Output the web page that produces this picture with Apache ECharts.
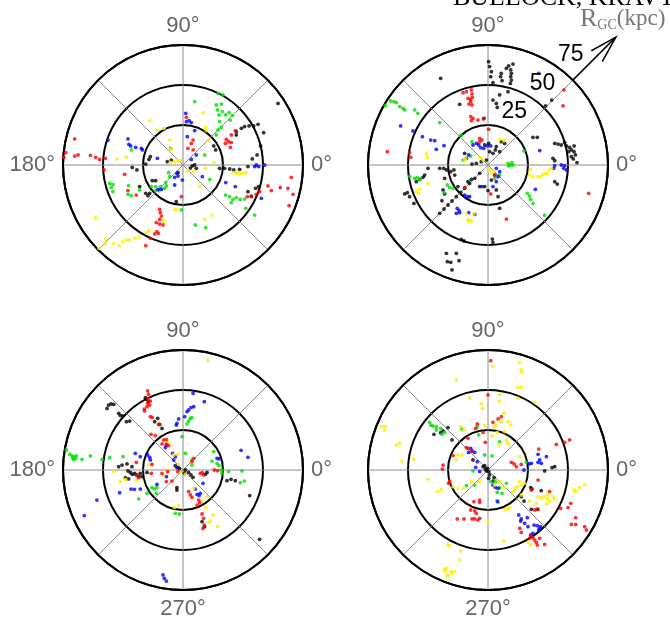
<!DOCTYPE html>
<html>
<head>
<meta charset="utf-8">
<script src="https://cdn.jsdelivr.net/npm/echarts@6/dist/echarts.min.js"></script>
<style>
  html, body { margin: 0; padding: 0; background: #fff; }
  #chart { width: 670px; height: 618px; }
</style>
</head>
<body>
<div id="chart"></div>
<script>
// Projected satellite-debris positions (x, y) in kpc, one array per colour per panel.

// Panel A (top left)
const aRed = [[-67.7,16.3],[-73.3,7.7],[-74.5,4.8],[-67.7,5.6],[-65.6,6.3],[-57.9,6.0],[-54.6,4.8],[-52.1,3.5],[-48.5,4.2],[-49.4,-3.1],[-36.5,-5.8],[-34.4,-16],[-29.2,-18.8],[-14.6,-27.7],[-14.2,-29.8],[-13.5,-31.9],[-14.6,-34],[-16.7,-36],[-14.6,-36.9],[-12.5,-37.5],[-16.3,-41.7],[-17.7,-43.1],[-15.4,-42.7],[-20.4,-45.8],[-23.3,-50.4],[2.1,29.8],[6.3,15.6],[5.2,13.5],[6.3,9.4],[3.1,10.4],[32.7,21.5],[30.2,18.8],[27.1,16],[26.5,13.5],[28.5,14.6],[30.2,14],[29.6,11],[67.7,-7.7],[60.8,-14.2],[65.6,-14.6],[68.8,-18.3],[66.3,-25.4],[53.1,-13.1],[55.2,-16],[47.9,-16.7],[45.8,-18.3],[42.7,-19.8],[40.2,-19.8],[-1,-19.8]];
const aGreen = [[21.9,44.8],[25,43.8],[20.8,37.5],[24,38.1],[21.5,34.4],[24.6,33.3],[22.5,31.3],[26.7,31.3],[28.8,32.7],[30.8,31],[29.6,28.1],[22.9,27.1],[24,23.5],[21.9,21.9],[20.8,18.8],[7.3,39.6],[-32.3,9.4],[-7.7,10.4],[13.5,6.3],[-45.8,-11.5],[-43.8,-12.1],[-44.8,-14],[-43.8,-16.7],[-34,-12.9],[-34.4,-18.3],[-32.3,-19.2],[-27.1,-15.6],[-19.8,-13.5],[-17.1,-13.5],[-17.1,-16],[-15,-16],[-14,-13.5],[-11.5,-14.6],[-10.4,-13.1],[-10.8,-11],[-8.3,-7.3],[-9,-4.8],[26.7,-18.8],[29.2,-19.8],[31.3,-21.5],[30.2,-23.5],[33.3,-20.4],[35.8,-21.5],[38.5,-21.3],[39.2,-27.1],[44.8,-31.3],[7.7,-37.5],[14.2,-39.2],[-1,-28.1],[16.7,-9]];
const aBlue = [[1.7,32.3],[2.1,27.1],[3.8,27.7],[5.2,26.5],[7.3,21.5],[2.7,17.7],[-46.9,15.6],[-34.4,16.3],[-33.8,12.9],[-32.7,11.9],[-29.6,11],[-26,10.4],[-25.4,9.4],[-16,4.2],[5.2,3.5],[8.3,6.3],[-3.8,-5.2],[-3.1,-6.9],[-5.2,-7.7],[-0.4,-9.4],[-5.2,-12.5],[-15.6,-15.2],[-13.5,-15.2],[12.1,-7.3],[26.7,-11],[32.7,-13.5],[45.8,0],[47.3,-1],[51,0],[44.8,-1],[49,-20.8]];
const aBlack = [[59.4,38.5],[46.9,25.4],[44.2,24.4],[41.3,24.4],[38.5,24],[36.5,22.9],[33.3,18.8],[33.3,20.8],[50.4,20.2],[48.5,11.9],[46.3,6.3],[43.3,3.8],[19.2,11.9],[20.4,9.4],[22.9,-2.1],[26,-2.1],[29.2,-2.5],[31.7,-3.1],[35.4,-2.7],[40.6,-1],[47.3,-13.5],[45.4,-14.6],[40.6,-16.7],[42.7,-19.4],[5.8,-0.6],[7.3,0],[8.3,-2.1],[4.6,-1.9],[-9.8,2.1],[-7.3,3.1],[-20.4,5.2],[-21.3,3.5],[-23.3,0.6],[-31.7,-1.5],[-28.8,-3.1],[-19.2,-9.8],[-17.1,-9.8],[-27.1,-13.5],[-23.3,-17.7],[-20.8,-17.7],[-21.9,-19.2],[-4.2,-22.9],[-3.1,-4.8]];
const aYellow = [[12.9,32.7],[-20.8,27.7],[-16,21.5],[-11.9,22.9],[-8.3,15.6],[-7.3,9.8],[14,23.5],[14.6,21.5],[15.6,15.6],[-35.4,4.8],[-41.3,3.8],[-7.9,1.5],[-5.2,2.1],[-3.1,2.7],[-1.5,2.7],[14,-2.1],[19.4,1.5],[31.3,-4.8],[33.3,-5.2],[35.4,-5.2],[37.5,-5.2],[39.2,-4.8],[10.4,-13.5],[3.1,-3.5],[6.7,-3.8],[-5.2,-27.7],[-3.8,-27.7],[18.3,-31.3],[13.5,-34],[-54.6,-32.9],[-21.3,-41],[-22.9,-42.1],[-27.5,-45.4],[-30.2,-45.8],[-33.3,-46.9],[-35.4,-46.9],[-37.5,-47.9],[-40,-50.6],[-43.3,-49],[-48.3,-46.5],[-49,-49.4],[-52.5,-52.1],[-12.1,-34.4],[-11.5,-35.4]];

// Panel B (top right)
const bRed = [[-15.6,45.2],[-13.5,45.8],[-10.4,46.9],[-10,44.4],[-12.5,41.7],[-10.8,41],[-9.8,42.3],[-10.8,39.6],[-11.9,38.1],[-10,37.5],[-10.8,30.2],[-9.4,29.2],[-10.4,27.7],[-6.3,28.1],[-2.9,28.8],[0.4,22.3],[-5.2,16.7],[-3.8,15.6],[-5.2,14.6],[47.5,46.9],[46.9,36.9],[-62.9,8.3],[-49,7.7],[-48.3,4.8],[62.9,-17.7],[11.5,-33.8],[1.7,-18.1],[-14.6,-14.2],[4.2,-6.3]];
const bGreen = [[-64.2,37.1],[-60.8,40],[-58.8,39.6],[-57.3,39],[-55.2,36.5],[-53.1,35.4],[-52.1,34.4],[-45.8,34.4],[-43.8,32.3],[-30.2,26.5],[-16.7,18.8],[-10,14.6],[-15.6,3.1],[-10.8,5.6],[12.5,1],[14,0],[15,1.5],[15.6,0],[12.9,-0.6],[22.5,8.8],[-49,-7.3],[-45.8,-8.3],[-44.2,-7.9],[-42.7,-9],[-25.4,-12.5],[-24,-14],[-21.9,-14.6],[-27.5,-17.3],[24.6,-17.7],[26,-19.4],[26.7,-21.5],[28.1,-24],[35.4,-31.3],[4.2,-8.3],[7.3,-6.3]];
const bBlue = [[31.7,57.3],[-54.6,24.4],[-46.9,21.3],[-41,17.7],[-35.8,15.6],[-33.3,15.2],[-32.3,9.8],[-27.5,12.1],[-12.1,6.3],[-9.4,12.5],[-7.3,13.5],[-5.8,12.5],[-4.6,10.8],[-2.7,10.4],[-0.4,11.9],[1.7,11.9],[32.3,9],[41.7,-0.4],[45.8,0],[47.9,-0.4],[47.3,-2.1],[49,-3.1],[41,-2.1],[5.2,-2.1],[7.3,-4.2],[4.2,-6.3],[6.3,-7.3],[5.2,-10.4],[3.1,-13.5],[-3.8,-13.5],[29.6,-15.2],[-14.6,-18.8],[-12.9,-19.8],[-11.5,-19.8],[-19.2,-27.1],[-18.1,-28.5],[-17.7,-29.8],[-19.8,-30.2],[-12.1,-29.8],[-8.3,-30.8]];
const bBlack = [[0.4,64.6],[1,61.5],[2.1,58.3],[1.7,55.2],[3.1,51.5],[8.3,57.3],[7.9,55.2],[8.8,52.7],[11.5,60.4],[12.9,61.9],[15.6,63.1],[14.2,59.4],[14.6,57.3],[14.2,55.2],[14.6,53.1],[14,51],[12.5,45.8],[-29.6,54.2],[-17.7,37.9],[7.3,43.8],[3.1,40.6],[5.2,38.5],[5.8,36],[-2.5,29.2],[28.1,17.3],[30.8,17.3],[41.7,13.5],[43.8,13.1],[45.8,12.5],[47.9,14],[49,11.9],[51,11],[52.1,9.4],[53.8,8.3],[54.6,6.3],[52.1,5.2],[53.3,3.8],[55.6,1.5],[53.8,11.9],[50.4,8.3],[40.6,4.2],[41.7,2.7],[41.7,-10.4],[43.3,-11.9],[-14.6,7.3],[-13.5,4.2],[-7.3,1],[-4.2,2.1],[-1,3.1],[-10,0.6],[3.1,7.3],[4.6,9.4],[5.2,11.5],[7.3,8.3],[8.3,14.6],[10.4,13.5],[-2.1,12.5],[0.4,13.5],[1,8.3],[-5.2,-13.5],[-2.1,-13.5],[0,-16],[2.1,-9.4],[5.2,-15.6],[6.3,-19.8],[-37.5,-2.1],[-39.6,-6.3],[-40.6,-7.7],[-42.7,-9],[-44.8,-10.4],[-52.1,-18.1],[-50.4,-17.3],[-49,-19.8],[-46.3,-24],[-30.2,-2.1],[-27.7,-2.1],[-26,-3.1],[-23.3,-4.2],[-21.3,-3.1],[-20.8,-6.3],[-27.1,-8.3],[-28.1,-15.6],[-27.1,-18.1],[-28.8,-22.3],[-18.8,-13.5],[-12.5,-10.4],[-10.4,-9],[-5.2,-5.2],[-8.3,-8.3],[-11.5,-11.5],[-14.6,-14.6],[-17.1,-17.1],[-19.8,-19.8],[-22.5,-22.5],[-25,-25],[-27.5,-27.5],[-30.2,-30.2],[36,37],[39.8,40.6],[-16.7,-46.5],[-15,-47.5],[2.7,-46.3],[3.1,-48.3],[7.3,-27.1],[-26,-55.2],[-25.4,-60.4],[-23.3,-60.8],[-22.5,-65.6],[-19.8,-55.2],[-18.1,-59.8]];
const bYellow = [[7.3,16],[10,15.2],[-38.5,6.9],[-37.9,4.8],[-14,4.2],[-14.6,2.7],[-3.1,3.1],[-5.2,4.8],[1,-3.1],[2.5,-4.8],[3.8,-3.8],[26.7,-2.7],[26,-6.3],[28.1,-7.3],[31.3,-7.3],[33.3,-7.3],[34.4,-5.8],[35.8,-5.2],[37.1,-5.6],[38.1,-3.1],[39.6,-2.1],[-37.5,-11.5],[-42.7,-15.2],[-44.8,-16.7],[-43.3,-17.7],[-13.5,-30.6],[-12.1,-34],[-12.5,-35],[-10.4,-35],[-8.8,-30.6]];

// Panel C (bottom left)
const cRed = [[-22.1,49.4],[-21.5,47.3],[-22.1,44.4],[-20.4,43.1],[-22.1,41.7],[-20.8,40.6],[-22.5,39.6],[-24.2,38.1],[-24,36.9],[-20.4,33.3],[-19.2,32.9],[-15.2,28.5],[-20,22.3],[-17.3,21.5],[-12.1,18.8],[-10.4,19],[-10.4,16],[-9,15.2],[-13.1,16.3],[-29.2,4.8],[-28.8,-3.1],[-27.9,-4.8],[-19.4,3.5],[-19.8,-2.1],[-13.1,-2.1],[-10.4,-7.3],[-6.9,-6.9],[-9.6,-1],[-3.3,-1],[6.7,7.3],[5.6,5.2],[10.8,-2.1],[12.1,-1.7],[12.9,-3.1],[19.6,0],[21.7,-0.4],[3.5,-13.5],[4.6,-15.6],[5.6,-17.1],[9.8,-18.8],[10.4,-20.4],[8.8,-21.9],[11.9,-27.5],[12.9,-30.2],[13.3,-34.4],[12.5,-36.5]];
const cGreen = [[-72.9,12.5],[-70.8,9.8],[-69.4,8.8],[-67.9,8.3],[-66.7,8.8],[-67.3,7.3],[-68.8,7.3],[-68.3,6.5],[-63.1,6.7],[-57.9,8.8],[-50.6,6.7],[-45.8,7.7],[-37.5,8.3],[-0.6,20.8],[1.5,10.4],[5.6,6.3],[5.6,3.1],[2.5,28.8],[3.5,30.6],[4.6,32.3],[5.6,32.7],[19.2,11.5],[18.1,5.6],[21.3,4.2],[22.5,2.7],[24,0],[28.5,-1],[24.4,-2.1],[36.9,-0.6],[35.8,-7.9],[38.3,-6.9],[-19.4,-11],[-17.9,-11.9],[-16.3,-11],[-16.7,-14.6],[-27.7,-18.1],[-22.5,-14.6],[-4.8,-27.1],[-2.3,-27.5]];
const cBlue = [[6.3,47.9],[13.3,42.7],[6.7,39.6],[5,39],[3.5,37.5],[2.5,36.5],[1,33.3],[-3.8,29.2],[-4.2,28.1],[-2.7,31.9],[-29.8,10.4],[-26.7,8.3],[-22.1,9.4],[-20.8,7.9],[-20.4,6.3],[-11,14],[-10.4,15.6],[-6.5,10.4],[-4.8,8.3],[-5.8,6.3],[-26.7,-11.9],[-30.4,-12.1],[-32.5,-11.9],[-39.6,-14.2],[-53.8,-18.8],[-61.7,-28.5],[-16.3,-9],[-10.4,-4.2],[-3.8,1.5],[21.3,7.3],[22.5,6.9],[36.3,12.3],[40.6,7.9],[12.5,-8.3],[7.7,-11.9],[8.8,-15.2],[10,-16],[10.8,-14.6],[-12.5,-65.6],[-11.7,-67.7],[-10.4,-69.4]];
const cBlack = [[-47.5,38.5],[-46.5,40.6],[-45,41.3],[-43.3,41],[-40.2,35.4],[-39.2,34],[-37.7,33.8],[-35.4,30.2],[-33.3,30.6],[-23.5,45.2],[-22.9,44.2],[-21.5,42.7],[-17.7,30.2],[-15.8,32.3],[-14.6,28.5],[-13.1,26],[-40.2,2.1],[-38.1,3.1],[-35,3.8],[-31.9,2.1],[-34.4,-0.6],[-32.9,-1.5],[-31.7,-2.7],[-30.2,-2.1],[-29.2,-3.1],[-27.5,-4.2],[-26.7,-2.1],[-25.4,-4.2],[-36,-4.8],[-34,-5.6],[-22.5,-1.5],[-4.8,2.7],[-3.3,1.9],[-2.3,0.8],[1.5,0],[0.8,-2.1],[3.5,-1.5],[5,-3.1],[6.3,-4.6],[14,-2.7],[15,-1.5],[27.5,-6.7],[30,-5.8],[32.7,-6.7],[41.7,-16],[47.9,-43.3],[-3.8,-11],[-3.8,-12.5],[11.9,-32.3],[13.5,-35.4]];
const cYellow = [[15.6,68.3],[-10,17.7],[-9,16],[-5.8,9.4],[-3.3,9.8],[-21.5,3.5],[-39.2,-7.3],[-43.3,-1],[-36,-5.8],[-28.8,-6.9],[-12.1,-3.1],[-9,0],[-2.7,3.5],[-2.1,-1.5],[1.5,-2.7],[6.7,-11.5],[11.9,-19.4],[14.4,-23.5],[15,-16.7],[18.8,-28.1],[17.1,-31.9],[16,-32.7],[21.7,-35.4],[-5.4,-23.5],[-2.7,-22.3]];

// Panel D (bottom right)
const dRed = [[1.7,68.3],[0,46.9],[8.3,33.3],[6.3,31.9],[3.1,29.8],[-6.7,28.8],[-7.7,26],[-3.1,23.5],[-1.7,17.3],[-12.5,19.8],[-12.5,13.5],[-10,11.9],[-13.5,14],[-21.9,9],[-28.1,3.1],[-28.5,0.6],[-24,-7.3],[-24.6,-8.3],[14.6,4.8],[16.3,3.8],[17.7,2.1],[20.8,3.5],[27.1,-12.5],[31.3,-6.3],[38.5,-13.5],[31.7,13.1],[42.7,16],[47.9,17.3],[51,18.8],[50,-23.5],[51.7,-20.8],[45.4,-24],[54.8,-29.8],[52.1,-34],[54.8,-34],[60.4,-35.4],[61.5,-37.5],[-5.2,-18.8],[-5.2,-20.2],[-8.8,-19.8],[-10.8,-25],[-8.3,-25.6],[-7.3,-27.1],[-5.2,-30.2],[-6.3,-31.3],[-8.3,-30.6],[-10,-30.6],[-15,-30.6],[-19.2,-30.6],[19.8,-36.5],[20.8,-39],[26.7,-41],[28.1,-42.3],[29.2,-43.8],[30.2,-45.2],[30.8,-46.9],[32.3,-42.7],[35.4,-46.5],[26,-42.7],[31.3,-24.6],[29.2,-25]];
const dGreen = [[-36.5,29.8],[-35.8,28.1],[-34.4,27.5],[-32.3,27.1],[-32.3,25],[-29.6,26],[-27.1,23.5],[-28.8,22.3],[-16.3,25.6],[-6.7,27.1],[-2.1,9.4],[2.5,8.8],[7.3,17.7],[-5.8,21.9],[-9.4,-0.6],[-13.5,-9.8],[-8.3,-9.4],[1.7,-7.3],[4.6,-7.3],[7.3,-11],[11.5,-8.3],[24,4.8],[5.8,-14],[6.3,-20.2],[8.8,-14.6]];
const dBlue = [[-10.8,13.5],[-10,11.9],[-8.3,11],[-12.1,11],[-6.7,5.2],[-7.7,1.7],[-5.2,-1],[3.1,-9.4],[4.6,-10.8],[6.3,-11.5],[5.8,-19.4],[31.3,9.8],[32.3,6.3],[31.3,4.8],[33.3,4.2],[36.5,8.3],[27.1,4.2],[25.6,3.8],[22.5,0],[19.2,-28.1],[20.8,-30.6],[24.6,-29.8],[20.4,-31.9],[22.9,-33.3],[25,-35.4],[28.8,-34.4],[30.8,-34.8],[32.3,-36.5],[32.9,-35.4],[31.7,-37.5],[28.1,-39.6],[26.7,-40.6]];
const dBlack = [[-33.8,22.3],[-29.6,23.3],[-28.1,24.4],[-25,26.5],[-22.5,18.8],[-9.4,6.3],[-2.1,2.7],[-1.7,0.6],[-1,-0.6],[-0.4,1],[0.4,-1],[1,-3.1],[3.8,-4.8],[0.4,-5.2],[35.4,-0.6],[40,1.5],[41.7,2.1],[26.7,-11],[27.5,-11.9],[33.3,-12.9],[22.5,-19.4],[20.8,-16.7],[27.1,-24.6],[30.8,-24.6],[3.1,-6.9],[-3.1,2.1]];
const dYellow = [[19.8,67.3],[20.8,62.5],[21.3,61],[3.1,64.6],[-19.8,56.3],[18.8,51.7],[20.8,51.7],[-11.5,44.8],[7.3,47.3],[18.8,44.8],[29.2,42.3],[-4.2,41.3],[-3.5,38.5],[7.3,43.1],[10,35.4],[8.3,30.2],[12.5,30.2],[14.2,28.1],[5.2,28.1],[3.8,27.1],[-2.1,28.1],[-17.3,27.1],[-15,25],[-66.3,27.1],[-64.2,27.3],[-64.6,25],[-55.2,16.7],[-57.3,15.6],[-53.8,5.6],[-46.3,6.7],[11.5,18.8],[12.1,17.3],[12.9,16],[6.7,15.6],[2.5,21.5],[5.8,23.5],[10.4,24],[-19.8,6.3],[-18.8,9.4],[-16.3,9.4],[-23.3,-6.9],[-21.9,-10.4],[-18.8,-11.5],[-15.6,-11.5],[-29.2,-12.5],[-31.3,-13.5],[-37.5,-5.8],[-10.4,-7.3],[-5.2,-7.3],[7.3,-7.3],[10,-11],[15.6,-13.5],[16.7,-11.5],[18.3,-10.4],[19.8,-7.3],[20.8,-9.4],[22.9,-8.3],[31.3,-16.7],[33.3,-17.3],[35.4,-16.7],[37.1,-18.1],[38.5,-19.8],[36.5,-21.3],[37.1,-15.6],[40.6,-16.7],[41.7,-18.1],[30.2,-20.8],[26,-19.4],[53.8,-12.5],[54.6,-13.5],[57.3,-10.8],[60.4,-9],[13.5,-23.5],[12.1,-24],[10.4,-25],[0,-31.9],[26.7,-46.9],[25,-45.2],[10,-44.4],[-25,-46.5],[-24,-47.5],[-17.1,-50.6],[-17.7,-56.3],[-27.5,-62.1],[-26.7,-63.5],[-25,-65.6],[-23.3,-63.5],[-22.5,-64.6],[-20.8,-63.5],[-25.4,-66.7],[-26,-61.5],[4.2,-9.4],[19.8,8.3],[20.8,-15.6]];

// Ring and spoke layout
const ringValues = [25, 50, 75];
const spokeStep = 45;
const angleLabels = [
  [0, 90, 180],
  [0, 90],
  [0, 90, 180, 270],
  [0, 90, 270]
];
const panelData = [
  { black: aBlack, green: aGreen, blue: aBlue, yellow: aYellow, red: aRed },
  { black: bBlack, green: bGreen, blue: bBlue, yellow: bYellow, red: bRed },
  { black: cBlack, green: cGreen, blue: cBlue, yellow: cYellow, red: cRed },
  { black: dBlack, green: dGreen, blue: dBlue, yellow: dYellow, red: dRed }
];
const colors = { black: '#000000', green: '#00e000', blue: '#0000ff', yellow: '#ffee00', red: '#ff0000' };

const R_PX = 120;
const centers = [[183, 165], [488, 165], [183, 470], [488, 470]];
const RMAX = ringValues[ringValues.length - 1];

function toPolar(p) {
  const r = Math.hypot(p[0], p[1]);
  let a = Math.atan2(p[1], p[0]) * 180 / Math.PI;
  if (a < 0) a += 360;
  return [r, a];
}

const polar = [], angleAxis = [], radiusAxis = [], series = [];
centers.forEach((c, i) => {
  polar.push({ center: [c[0], c[1]], radius: R_PX });
  const shown = angleLabels[i];
  angleAxis.push({
    polarIndex: i, type: 'value', min: 0, max: 360, interval: spokeStep,
    startAngle: 0, clockwise: false,
    axisLine: { show: true, lineStyle: { color: '#000', width: 2 } },
    axisTick: { show: false },
    splitLine: { show: true, lineStyle: { color: '#8c8c8c', width: 1 } },
    axisLabel: {
      show: true, margin: 8, fontSize: 22, color: '#666',
      fontFamily: 'Liberation Sans',
      formatter: v => (v < 360 && shown.indexOf(v) >= 0) ? v + '°' : ''
    }
  });
  radiusAxis.push({
    polarIndex: i, type: 'value', min: 0, max: RMAX, interval: ringValues[0],
    axisLine: { show: false }, axisTick: { show: false }, axisLabel: { show: false },
    splitLine: { show: true, lineStyle: { color: '#000', width: 2 } }
  });
  Object.keys(panelData[i]).forEach(k => {
    series.push({
      type: 'scatter', coordinateSystem: 'polar', polarIndex: i,
      symbol: 'circle', symbolSize: 3.8, silent: true,
      itemStyle: { color: colors[k] },
      data: panelData[i][k].map(toPolar)
    });
  });
});

// Scale arrow on the upper-right panel
const bc = centers[1];
const kpcPx = R_PX / RMAX;
const dir = [Math.SQRT1_2, -Math.SQRT1_2];
const tipR = 113 * kpcPx;
const tip = [bc[0] + dir[0] * tipR, bc[1] + dir[1] * tipR];
const start = [bc[0] + dir[0] * R_PX, bc[1] + dir[1] * R_PX];
function barb(rot) {
  const ang = Math.atan2(-dir[1], -dir[0]) + rot * Math.PI / 180;
  return [tip[0] + Math.cos(ang) * 28, tip[1] + Math.sin(ang) * 28];
}
const graphic = [
  { type: 'line', shape: { x1: start[0], y1: start[1], x2: tip[0], y2: tip[1] }, style: { stroke: '#000', lineWidth: 1.5 }, z: 10 },
  { type: 'polyline', shape: { points: [barb(-16), tip, barb(16)] }, style: { stroke: '#000', lineWidth: 1.5, fill: null }, z: 10 }
];
ringValues.forEach(v => {
  const r = v * kpcPx;
  graphic.push({
    type: 'text', z: 10,
    x: bc[0] + dir[0] * r - 2, y: bc[1] + dir[1] * r - 25,
    style: { text: String(v), fontSize: 23, fontFamily: 'Liberation Sans', fill: '#000', align: 'center', verticalAlign: 'middle' }
  });
});
graphic.push({
  type: 'text', z: 10, x: 580, y: 6,
  style: {
    text: '{r|R}{s|GC}{k|(kpc)}',
    rich: {
      r: { fontSize: 26, fontFamily: 'Liberation Serif', fill: '#777' },
      s: { fontSize: 14, fontFamily: 'Liberation Serif', fill: '#777', padding: [12, 0, 0, 0] },
      k: { fontSize: 23, fontFamily: 'Liberation Serif', fill: '#777' }
    }
  }
});
graphic.push({
  type: 'text', z: 10, x: 453, y: 11,
  style: { text: 'BULLOCK, KRAVTSOV & WEINBERG', fontSize: 26, fontFamily: 'Liberation Serif', fill: '#000', verticalAlign: 'bottom' }
});

const chart = echarts.init(document.getElementById('chart'), null, { renderer: 'canvas' });
chart.setOption({
  animation: false,
  backgroundColor: '#fff',
  polar, angleAxis, radiusAxis, series, graphic
});
</script>
</body>
</html>
